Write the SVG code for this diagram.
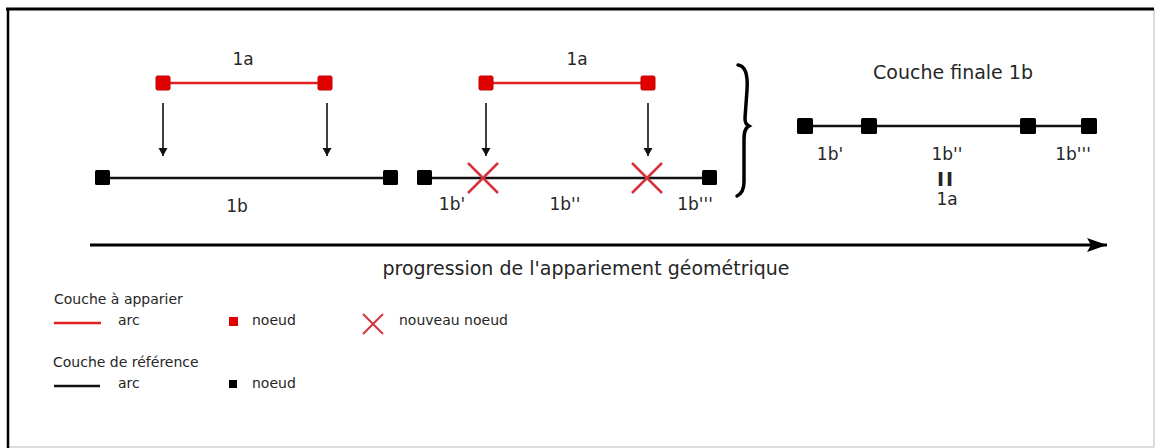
<svg xmlns="http://www.w3.org/2000/svg" width="1156" height="448" viewBox="0 0 1156 448">
<defs>
<style>
text{font-family:"DejaVu Sans","Liberation Sans",sans-serif;fill:#262626}
.lbl{font-size:17px;text-anchor:middle}
.leg{font-size:14px}
.rn{fill:#e00000;stroke:#c40000;stroke-width:1}
.bn{fill:#000}
.ra{stroke:#e02020;stroke-width:2.5;fill:none}
.ba{stroke:#111;stroke-width:2.5;fill:none}
.ar{stroke:#111;stroke-width:1.6;fill:none;marker-end:url(#ah)}
.cross{stroke:#d4343c;stroke-width:2.5;fill:none}
</style>
<marker id="ah" viewBox="0 0 8 12" refX="8" refY="6" markerWidth="8" markerHeight="12" markerUnits="userSpaceOnUse" orient="auto">
<path d="M0,1.5 L8,6 L0,10.5 z" fill="#111"/>
</marker>
<marker id="bigah" viewBox="0 0 20 14" refX="20" refY="7" markerWidth="20" markerHeight="14" markerUnits="userSpaceOnUse" orient="auto">
<path d="M0,0 L20,7 L0,14 L4,7 z" fill="#000"/>
</marker>
</defs>
<rect x="0" y="0" width="1156" height="448" fill="#fff"/>
<g id="frame">
<line x1="1154" y1="9" x2="1154" y2="447" stroke="#d0d0d0" stroke-width="1.5"/>
<line x1="8" y1="447" x2="1154" y2="447" stroke="#d0d0d0" stroke-width="1.5"/>
<line x1="6" y1="9" x2="1154" y2="9" stroke="#000" stroke-width="3"/>
<line x1="8" y1="8" x2="8" y2="448" stroke="#000" stroke-width="2.5"/>
</g>
<g id="connectors">
<line class="ar" x1="163" y1="103" x2="163" y2="156"/>
<line class="ar" x1="327" y1="103" x2="327" y2="156"/>
<line class="ar" x1="486" y1="103" x2="486" y2="156"/>
<line class="ar" x1="648" y1="103" x2="648" y2="156"/>
<line x1="90" y1="245" x2="1107" y2="245" stroke="#000" stroke-width="3" marker-end="url(#bigah)"/>
</g>
<g id="step1">
<line class="ra" x1="163" y1="83" x2="325" y2="83"/>
<rect class="rn" x="156" y="76" width="14" height="14" rx="1.5"/>
<rect class="rn" x="318" y="76" width="14" height="14" rx="1.5"/>
<text class="lbl" x="243" y="65">1a</text>
<line class="ba" x1="102" y1="178" x2="390" y2="178"/>
<rect class="bn" x="95" y="170" width="15" height="15" rx="1.5"/>
<rect class="bn" x="383" y="170" width="15" height="15" rx="1.5"/>
<text class="lbl" x="237" y="212">1b</text>
</g>
<g id="step2">
<line class="ra" x1="486" y1="83" x2="648" y2="83"/>
<rect class="rn" x="479" y="76" width="14" height="14" rx="1.5"/>
<rect class="rn" x="641" y="76" width="14" height="14" rx="1.5"/>
<text class="lbl" x="577" y="65">1a</text>
<line class="ba" x1="424" y1="178" x2="709" y2="178"/>
<rect class="bn" x="417" y="170" width="15" height="15" rx="1.5"/>
<rect class="bn" x="702" y="170" width="15" height="15" rx="1.5"/>
<path class="cross" d="M468,163 L498,193 M498,163 L468,193"/>
<path class="cross" d="M632,163 L662,193 M662,163 L632,193"/>
<text class="lbl" x="452" y="210">1b'</text>
<text class="lbl" x="565" y="210">1b''</text>
<text class="lbl" x="695" y="210">1b'''</text>
</g>
<g id="brace">
<path d="M738,65 C746,66 748,76 747,90 L745,118 C745,123 746,124 749,126 C745,128 744,132 744,140 L744,182 C744,190 741,194 737,196" fill="none" stroke="#000" stroke-width="3.5" stroke-linecap="round"/>
</g>
<g id="final">
<text x="953" y="79" style="font-size:19px;text-anchor:middle">Couche finale 1b</text>
<line class="ba" x1="805" y1="126" x2="1089" y2="126"/>
<rect class="bn" x="797" y="118" width="16" height="16" rx="1.5"/>
<rect class="bn" x="861" y="118" width="16" height="16" rx="1.5"/>
<rect class="bn" x="1020" y="118" width="16" height="16" rx="1.5"/>
<rect class="bn" x="1081" y="118" width="16" height="16" rx="1.5"/>
<text class="lbl" x="830" y="160">1b'</text>
<text class="lbl" x="947" y="160">1b''</text>
<text class="lbl" x="1073" y="160">1b'''</text>
<text x="946" y="186" style="font-size:19px;font-weight:bold;text-anchor:middle;letter-spacing:2px">II</text>
<text class="lbl" x="947" y="205">1a</text>
</g>
<g id="progression">
<text x="586" y="275" style="font-size:19px;text-anchor:middle">progression de l'appariement géométrique</text>
</g>
<g id="legend">
<text class="leg" x="54" y="304">Couche à apparier</text>
<line class="ra" x1="54" y1="323" x2="101" y2="323"/>
<text class="leg" x="118" y="325">arc</text>
<rect x="229" y="317" width="9" height="9" fill="#e00000"/>
<text class="leg" x="252" y="325">noeud</text>
<path d="M363,314 L383,334 M383,314 L363,334" stroke="#d4343c" stroke-width="2" fill="none"/>
<text class="leg" x="399" y="325">nouveau noeud</text>
<text class="leg" x="53" y="367">Couche de référence</text>
<line class="ba" x1="54" y1="386" x2="100" y2="386"/>
<text class="leg" x="118" y="388">arc</text>
<rect x="229" y="380" width="8" height="8" fill="#000"/>
<text class="leg" x="252" y="388">noeud</text>
</g>
</svg>
